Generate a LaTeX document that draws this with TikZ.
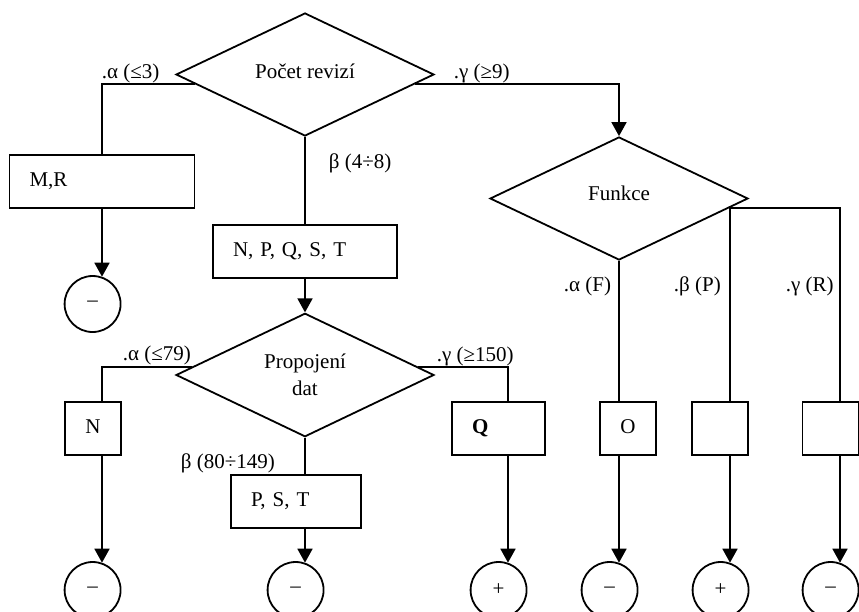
\documentclass[tikz,border=0pt]{standalone}
\usepackage{fontspec}
\setmainfont{Liberation Serif}
\usetikzlibrary{shapes.geometric,arrows.meta}

\begin{document}
\begin{tikzpicture}[x=1pt,y=-1pt,line width=1.8pt,
 font=\fontsize{21}{27}\selectfont,
 dec/.style={draw,diamond,minimum width=258pt,minimum height=123pt,inner sep=0pt},
 box/.style={draw,rectangle,minimum height=53pt,inner sep=0pt,text height=14pt,text depth=4pt},
 lbox/.style={box,align=left,inner xsep=20pt,text width=#1},
 sbox/.style={box,minimum width=56pt},
 term/.style={draw,circle,minimum size=56pt,inner sep=0pt},
 lbl/.style={anchor=base west,inner sep=0pt},
 arr/.style={-{Triangle[length=14pt,width=15pt]}}]
 \useasboundingbox (0,0) rectangle (859,611);

 % decisions
 \node[dec,label={[anchor=base,yshift=3.5pt]center:Počet revizí}] at (305,74.5) (revize) {};
 \node[dec,label={[anchor=base,yshift=5.5pt]center:Funkce}] at (619,198.5) (funkce) {};
 \node[dec,align=center] at (305,375) (propojeni) {Propojení\\dat};

 % boxes
 \node[lbox=145pt] at (102,181.5) (mr) {M,R};
 \node[lbox=144pt] at (305,251.5) (npqst) {N, P, Q, S, T};
 \node[lbox=90pt] at (296,501.5) (pst) {P, S, T};
 \node[lbox=53pt] at (498.5,428.5) (q) {\textbf{Q}};
 \node[sbox] at (93,428.5) (n) {N};
 \node[sbox] at (628,428.5) (o) {O};
 \node[sbox] at (720,428.5) (p) {};
 \node[sbox] at (830.5,428.5) (r) {};

 % results (centres 9.41 left of the lines)
 \node[term] at (92.59,304) (k0) {–};
 \node[term] at (92.59,590) (k1) {–};
 \node[term] at (295.59,590) (k2) {–};
 \node[term] at (498.59,590) (k3) {+};
 \node[term] at (609.59,590) (k4) {–};
 \node[term] at (720.59,590) (k5) {+};
 \node[term] at (830.59,590) (k6) {–};

 % branches
 \draw (revize.185) -| (mr.north);
 \draw[arr] (revize.-5) -| (funkce.north);
 \draw (revize.south) -- (npqst.north);
 \draw[arr] (mr.south -| k0.71) -- (k0.71);
 \draw[arr] (npqst.south) -- (propojeni.north);

 \draw (propojeni.176) -| (n.north -| k1.71);
 \draw (propojeni.4) -| (q.north -| k3.71);
 \draw (propojeni.south) -- (pst.north -| propojeni.south);
 \draw[arr] (n.south -| k1.71) -- (k1.71);
 \draw[arr] (pst.south -| k2.71) -- (k2.71);
 \draw[arr] (q.south -| k3.71) -- (k3.71);

 \draw (funkce.south) -- (o.north -| funkce.south);
 \draw (funkce.-5) -| (r.north -| k6.71);
 \draw (funkce.-5 -| k5.71) -- (p.north -| k5.71);
 \draw[arr] (o.south -| k4.71) -- (k4.71);
 \draw[arr] (p.south -| k5.71) -- (k5.71);
 \draw[arr] (r.south -| k6.71) -- (k6.71);

 % branch labels
 \node[lbl] at (101,78) (la) {.α (≤3)};
 \node[lbl] at (453,78) (lg) {.γ (≥9)};
 \node[lbl] at (328,168) (lb) {β (4÷8)};
 \node[lbl] at (122,360) (pa) {.α (≤79)};
 \node[lbl] at (180,468) (pb) {β (80÷149)};
 \node[lbl] at (436,361) (pg) {.γ (≥150)};
 \node[lbl] at (563,291) (fa) {.α (F)};
 \node[lbl] at (673,291) (fb) {.β (P)};
 \node[lbl] at (785,291) (fg) {.γ (R)};
\end{tikzpicture}
\end{document}
